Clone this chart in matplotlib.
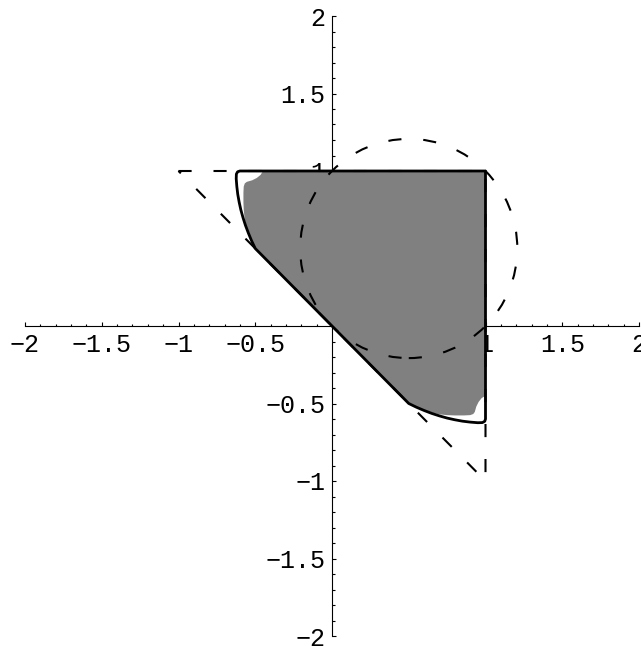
import numpy as np
import matplotlib
matplotlib.use("Agg")
import matplotlib.pyplot as plt
from matplotlib.patches import Polygon, Circle
from matplotlib.ticker import FixedLocator, FixedFormatter, MultipleLocator

# ---- data ----
# upper-left curved edge of the black outline (from the kink on y=-x up to the top edge)
curve_x = [-0.50, -0.524, -0.545, -0.564, -0.58, -0.594, -0.605, -0.614, -0.62, -0.624, -0.623, -0.615, -0.60]
curve_y = [0.50, 0.55, 0.60, 0.65, 0.70, 0.75, 0.80, 0.85, 0.90, 0.95, 0.98, 0.995, 1.0]

# upper-left edge of the gray region
gray_x = [-0.50, -0.524, -0.545, -0.56, -0.57, -0.575, -0.577, -0.577, -0.575, -0.568, -0.555, -0.52, -0.49, -0.465, -0.45]
gray_y = [0.50, 0.55, 0.60, 0.65, 0.70, 0.75, 0.80, 0.86, 0.90, 0.92, 0.93, 0.94, 0.955, 0.975, 1.0]

# dashed triangle
tri_x = [-1, 1, 1, -1]
tri_y = [1, 1, -1, 1]

# dashed circle
circle_center = (0.5, 0.5)
circle_radius = np.sqrt(0.5)

# ticks
major_ticks = [-2, -1.5, -1, -0.5, 0.5, 1, 1.5, 2]
tick_labels = ["\u22122", "\u22121.5", "\u22121", "\u22120.5", "0.5", "1", "1.5", "2"]

# ---- build closed outlines (shape is symmetric about y = x) ----
def outline(cx, cy):
    # right edge / lower curve are the mirror (x,y)->(y,x) of the upper-left curve
    pts = [(1.0, 1.0), (1.0, cx[-1])]
    pts += [(y, x) for x, y in zip(cx[::-1], cy[::-1])]
    pts += list(zip(cx, cy))
    return pts

fig = plt.figure(figsize=(6.41, 6.46), dpi=100)
ax = fig.add_axes([25 / 641, 10 / 646, 614 / 641, 620 / 646])
ax.set_xlim(-2, 2)
ax.set_ylim(-2, 2)

gray = Polygon(outline(gray_x, gray_y), closed=True, facecolor="#808080",
               edgecolor="none", zorder=1)
ax.add_patch(gray)

dash = (0, (6.3, 10.5))
ax.plot(tri_x, tri_y, color="black", lw=1.5, linestyle=dash, zorder=2,
        dash_capstyle="butt")
ax.add_patch(Circle(circle_center, circle_radius, fill=False, edgecolor="black",
                    lw=1.5, linestyle=dash, zorder=2))

black = Polygon(outline(curve_x, curve_y), closed=True, fill=False,
                edgecolor="black", lw=2.0, joinstyle="round", zorder=3)
ax.add_patch(black)

# ---- axes through origin ----
for s in ["top", "right"]:
    ax.spines[s].set_visible(False)
ax.spines["left"].set_position(("data", 0))
ax.spines["bottom"].set_position(("data", 0))
for s in ["left", "bottom"]:
    ax.spines[s].set_linewidth(0.8)
    ax.spines[s].set_zorder(0.5)
ax.set_axisbelow(True)

for axis in (ax.xaxis, ax.yaxis):
    axis.set_major_locator(FixedLocator(major_ticks))
    axis.set_major_formatter(FixedFormatter(tick_labels))
    axis.set_minor_locator(MultipleLocator(0.1))

ax.tick_params(which="major", direction="in", length=3.2, width=0.8, pad=5,
               labelsize=18)
ax.tick_params(which="minor", direction="in", length=1.8, width=0.8)
for lab in ax.get_xticklabels() + ax.get_yticklabels():
    lab.set_fontfamily("Liberation Mono")
ax.patch.set_visible(False)

fig.savefig("out.png", dpi=100)
